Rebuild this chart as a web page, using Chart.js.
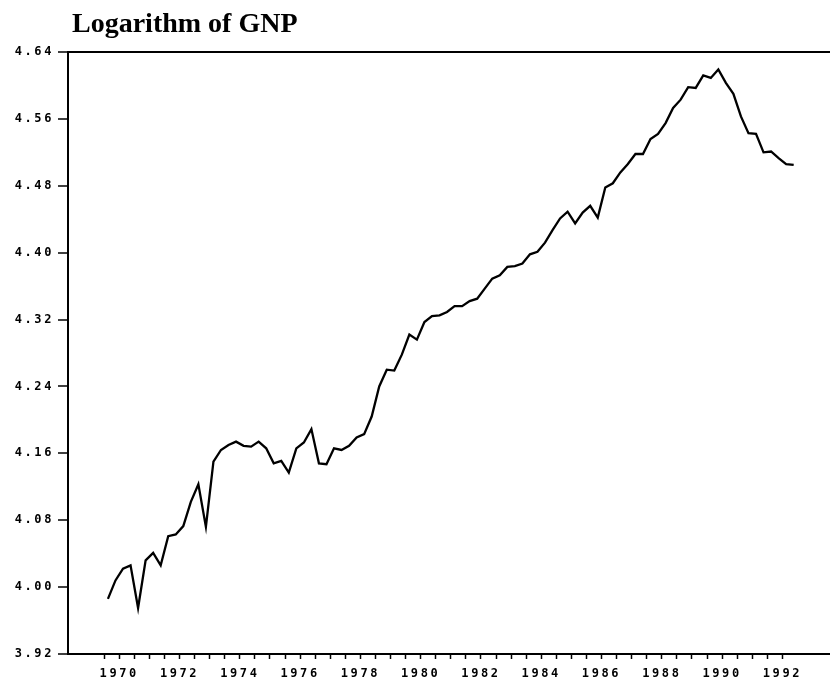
<!DOCTYPE html>
<html>
<head>
<meta charset="utf-8">
<script src="https://cdn.jsdelivr.net/npm/chart.js@4.4.1/dist/chart.umd.min.js"></script>
<style>
  html, body { margin: 0; padding: 0; background: #fff; }
  #wrap { width: 830px; height: 688px; }
</style>
</head>
<body>
<div id="wrap"><canvas id="gnpChart" width="830" height="688"></canvas></div>
<script>
// quarterly series, 1970Q1 .. 1992Q4
const startYear = 1970;
const logGnp = [
  3.986, 4.008, 4.022, 4.026, 3.975, 4.032, 4.041, 4.026,
  4.061, 4.063, 4.073, 4.102, 4.123, 4.072, 4.150, 4.164,
  4.170, 4.174, 4.169, 4.168, 4.174, 4.166, 4.148, 4.151,
  4.137, 4.166, 4.173, 4.189, 4.148, 4.147, 4.166, 4.164,
  4.169, 4.179, 4.183, 4.204, 4.240, 4.260, 4.259, 4.278,
  4.302, 4.296, 4.317, 4.324, 4.325, 4.329, 4.336, 4.336,
  4.342, 4.345, 4.357, 4.369, 4.373, 4.383, 4.384, 4.387,
  4.398, 4.401, 4.412, 4.427, 4.441, 4.449, 4.435, 4.448,
  4.456, 4.442, 4.478, 4.483, 4.496, 4.506, 4.518, 4.518,
  4.536, 4.542, 4.555, 4.573, 4.583, 4.598, 4.597, 4.612,
  4.609, 4.619, 4.603, 4.590, 4.563, 4.543, 4.542, 4.520,
  4.521, 4.513, 4.506, 4.505
];
const yTickLabels = ['3.92', '4.00', '4.08', '4.16', '4.24', '4.32', '4.40', '4.48', '4.56', '4.64'];
const xTickLabels = ['1970', '1972', '1974', '1976', '1978', '1980', '1982', '1984', '1986', '1988', '1990', '1992'];

// points sit in the middle of their quarter
const points = logGnp.map((v, i) => ({ x: startYear + 0.125 + i * 0.25, y: v }));

const monoFont = { family: 'DejaVu Sans Mono', size: 12, weight: 'bold' };

// wide typewriter look for tick labels, then title on top
const plotDecor = {
  id: 'plotDecor',
  beforeDraw(chart) {
    chart.ctx.letterSpacing = '2.6px';
  },
  afterDraw(chart) {
    const ctx = chart.ctx;
    ctx.save();
    ctx.letterSpacing = '0px';
    ctx.fillStyle = '#000';
    ctx.font = 'bold 28px "Liberation Serif", "Times New Roman", serif';
    ctx.textAlign = 'left';
    ctx.textBaseline = 'alphabetic';
    ctx.fillText('Logarithm of GNP', 72, 32);
    ctx.restore();
  }
};

new Chart(document.getElementById('gnpChart'), {
  type: 'line',
  data: {
    datasets: [{
      data: points,
      borderColor: '#000',
      borderWidth: 2.3,
      pointRadius: 0,
      tension: 0,
      fill: false
    }]
  },
  options: {
    responsive: false,
    animation: false,
    events: [],
    layout: { padding: { top: 52, right: 0, bottom: 0, left: 0 } },
    plugins: {
      legend: { display: false },
      tooltip: { enabled: false },
      title: { display: false }
    },
    scales: {
      x: {
        type: 'linear',
        min: 1968.8,
        max: 1994.08,
        afterFit(scale) { scale.height = 34; },
        afterBuildTicks(scale) {
          const t = [];
          for (let y = 1970; y <= 1992.5; y += 0.5) t.push({ value: y });
          scale.ticks = t;
        },
        grid: { drawOnChartArea: false, drawTicks: true, tickLength: 5, tickColor: '#000', tickWidth: 1.5 },
        border: { display: true, color: '#000', width: 2 },
        ticks: {
          color: '#000',
          font: monoFont,
          padding: 8,
          maxRotation: 0,
          autoSkip: false,
          callback(value) {
            const lbl = String(Math.round(value - 0.5));
            return (value % 1 !== 0 && xTickLabels.includes(lbl)) ? lbl : '';
          }
        }
      },
      y: {
        min: 3.92,
        max: 4.64,
        afterFit(scale) { scale.width = 68; },
        afterBuildTicks(scale) {
          scale.ticks = yTickLabels.map(s => ({ value: parseFloat(s) }));
        },
        grid: {
          drawOnChartArea: true,
          drawTicks: true,
          tickLength: 10,
          tickColor: '#000',
          tickWidth: 1.5,
          lineWidth: 2,
          color: ctx => (ctx.tick && ctx.index === yTickLabels.length - 1) ? '#000' : 'rgba(0,0,0,0)'
        },
        border: { display: true, color: '#000', width: 2 },
        ticks: {
          color: '#000',
          font: monoFont,
          padding: 4,
          callback(value, index) { return yTickLabels[index]; }
        }
      }
    }
  },
  plugins: [plotDecor]
});
</script>
</body>
</html>
